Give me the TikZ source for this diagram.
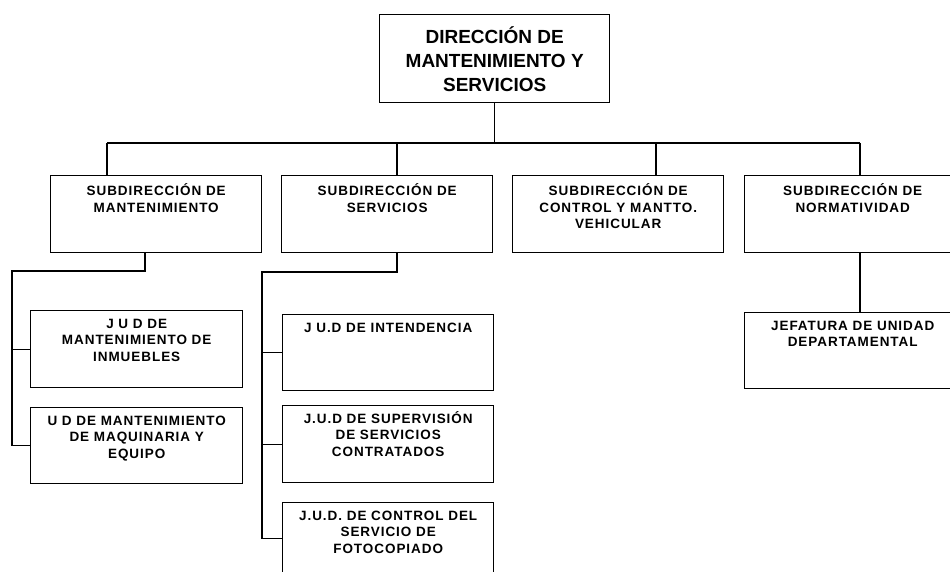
\documentclass[tikz,border=0pt]{standalone}
\usepackage{fontspec}
\setmainfont{Liberation Sans}
\newfontfamily\orgfont[LetterSpace=7]{Liberation Sans}
\newfontfamily\topfont{Liberation Sans}
\tikzset{
  box/.style={draw=black, line width=1.4pt, inner sep=0pt, anchor=north west},
  lbl/.style={anchor=north, align=center, inner sep=0pt, font=\orgfont\bfseries\fontsize{13.5}{16.5}\selectfont},
  conn/.style={draw=black, line width=1.3pt}
}
\newcommand{\st}{\rule{0pt}{13.5pt}}
\begin{document}
\begin{tikzpicture}[x=1pt,y=-1pt]
\useasboundingbox (0,0) rectangle (950,572);
\clip (0,0) rectangle (950,572);
\fill[white] (0,0) rectangle (950,572);

% top
\node[box, minimum width=230pt, minimum height=88pt, align=center,
      font=\topfont\bfseries\fontsize{19}{24}\selectfont] (top) at (379,14)
  {DIRECCIÓN DE\\MANTENIMIENTO Y\\SERVICIOS};

% subdirecciones
\node[box, minimum width=211pt, minimum height=77pt] (s1) at (50,175) {};
\node[box, minimum width=211pt, minimum height=77pt] (s2) at (281,175) {};
\node[box, minimum width=211pt, minimum height=77pt] (s3) at (512,175) {};
\node[box, minimum width=216pt, minimum height=77pt] (s4) at (744,175) {};
\node[lbl] (s1t) at ([yshift=-7pt]s1.north) {\st SUBDIRECCIÓN DE\\MANTENIMIENTO};
\node[lbl] (s2t) at ([yshift=-7pt]s2.north) {\st SUBDIRECCIÓN DE\\SERVICIOS};
\node[lbl] (s3t) at ([yshift=-7pt]s3.north) {\st SUBDIRECCIÓN DE\\CONTROL Y MANTTO.\\VEHICULAR};
\node[lbl] (s4t) at ([yshift=-7pt]s4.north) {\st SUBDIRECCIÓN DE\\NORMATIVIDAD};

% mantenimiento JUDs
\node[box, minimum width=212pt, minimum height=77pt] (j1) at (30,310) {};
\node[box, minimum width=212pt, minimum height=76pt] (j2) at (30,407) {};
\node[lbl] (j1t) at ([yshift=-4.5pt]j1.north) {\st J U D DE\\MANTENIMIENTO DE\\INMUEBLES};
\node[lbl] (j2t) at ([yshift=-4.5pt]j2.north) {\st U D DE MANTENIMIENTO\\DE MAQUINARIA Y\\EQUIPO};

% servicios JUDs
\node[box, minimum width=211pt, minimum height=76pt] (k1) at (282,314) {};
\node[box, minimum width=211pt, minimum height=77pt] (k2) at (282,405) {};
\node[box, minimum width=211pt, minimum height=72pt] (k3) at (282,502) {};
\node[lbl] (k1t) at ([yshift=-4.5pt]k1.north) {\st J U.D DE INTENDENCIA};
\node[lbl] (k2t) at ([yshift=-4.5pt]k2.north) {\st J.U.D DE SUPERVISIÓN\\DE SERVICIOS\\CONTRATADOS};
\node[lbl] (k3t) at ([yshift=-4.5pt]k3.north) {\st J.U.D. DE CONTROL DEL\\SERVICIO DE\\FOTOCOPIADO};

% jefatura
\node[box, minimum width=216pt, minimum height=76pt] (jf) at (744,312) {};
\node[lbl] (jft) at ([yshift=-4.5pt]jf.north) {\st JEFATURA DE UNIDAD\\DEPARTAMENTAL};

% bus coordinates
\coordinate (d1) at (107,143);
\coordinate (d2) at (397,143);
\coordinate (d3) at (656,143);
\coordinate (d4) at (860,143);
\coordinate (mv) at (145,271);
\coordinate (mb) at (12,271);
\coordinate (sv) at (397,272);
\coordinate (sb) at (262,272);

% connectors
\draw[conn] (top.south) -- (top.south |- d1);
\draw[conn] (d1) -- (d4);
\draw[conn] (d1) -- (d1 |- s1.north);
\draw[conn] (d2) -- (d2 |- s2.north);
\draw[conn] (d3) -- (d3 |- s3.north);
\draw[conn] (d4) -- (d4 |- s4.north);

\draw[conn] (mv |- s1.south) -- (mv) -- (mb) |- (j2.west);
\draw[conn] (mb |- j1.west) -- (j1.west);

\draw[conn] (sv |- s2.south) -- (sv) -- (sb) |- (k3.west);
\draw[conn] (sb |- k1.west) -- (k1.west);
\draw[conn] (sb |- k2.west) -- (k2.west);

\draw[conn] (d4 |- s4.south) -- (d4 |- jf.north);
\end{tikzpicture}
\end{document}
